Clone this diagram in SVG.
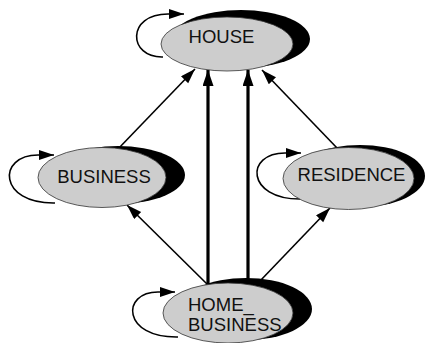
<svg xmlns="http://www.w3.org/2000/svg" width="427" height="343" viewBox="0 0 427 343">
<defs>
<style>
.bg{fill:#ffffff}
.shadow{fill:#000000;stroke:none}
.body{fill:#cdcdcd;stroke:#333333;stroke-width:0.8}
.label{font-family:"Liberation Sans",Arial,sans-serif;font-size:18.5px;fill:#111111}
.thin{fill:none;stroke:#000000;stroke-width:1.6}
.thick{fill:none;stroke:#000000;stroke-width:3.2}
</style>
<marker id="ah" markerUnits="userSpaceOnUse" markerWidth="16" markerHeight="12" refX="15" refY="5" orient="auto">
<path d="M0,0 L15,5 L0,10 Z" fill="#000000"/>
</marker>
<marker id="ahb" markerUnits="userSpaceOnUse" markerWidth="18" markerHeight="12" refX="16" refY="5.5" orient="auto">
<path d="M0,0 L16,5.5 L0,11 Z" fill="#000000"/>
</marker>
</defs>
<rect class="bg" x="0" y="0" width="427" height="343"/>
<g id="connectors">
<path class="thin" d="M163,57 C128,58 126,14 168,14 L184,14" marker-end="url(#ah)"/>
<path class="thin" d="M55,203 C-2,204 -3,155 38,155 L54,155" marker-end="url(#ah)"/>
<path class="thin" d="M300,199 C246,199 245,153 285,153 L301,153" marker-end="url(#ah)"/>
<path class="thin" d="M178,337 C122,338 121,292 158,292 L175,292" marker-end="url(#ah)"/>
<line class="thin" x1="118" y1="149" x2="195" y2="69" marker-end="url(#ah)"/>
<line class="thin" x1="338" y1="149" x2="262" y2="70" marker-end="url(#ah)"/>
<line class="thick" x1="208" y1="286" x2="208" y2="70" marker-end="url(#ahb)"/>
<line class="thick" x1="248" y1="283" x2="248" y2="70" marker-end="url(#ahb)"/>
<line class="thin" x1="207" y1="284" x2="127" y2="205" marker-end="url(#ah)"/>
<line class="thin" x1="260" y1="281" x2="330" y2="208" marker-end="url(#ah)"/>
</g>
<g id="house">
<ellipse class="shadow" cx="241" cy="39" rx="69" ry="29"/>
<ellipse class="body" cx="227" cy="44" rx="66" ry="27"/>
<text class="label" x="221.5" y="43" text-anchor="middle">HOUSE</text>
</g>
<g id="business">
<ellipse class="shadow" cx="118" cy="175" rx="67" ry="29"/>
<ellipse class="body" cx="102" cy="177.5" rx="64" ry="30"/>
<text class="label" x="104" y="183" text-anchor="middle">BUSINESS</text>
</g>
<g id="residence">
<ellipse class="shadow" cx="360" cy="176" rx="65" ry="31"/>
<ellipse class="body" cx="348.5" cy="178.5" rx="65.5" ry="31"/>
<text class="label" x="351.5" y="181" text-anchor="middle">RESIDENCE</text>
</g>
<g id="home_business">
<ellipse class="shadow" cx="246" cy="309" rx="66" ry="31"/>
<ellipse class="body" cx="228" cy="313" rx="65" ry="30"/>
<text class="label" x="188" y="310.5">HOME_</text>
<text class="label" x="188" y="331">BUSINESS</text>
</g>
</svg>
